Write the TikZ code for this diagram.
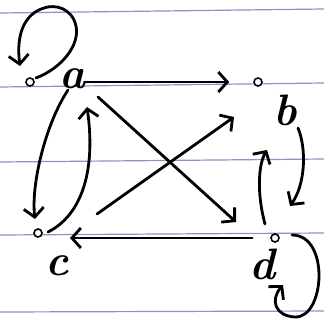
\documentclass[tikz,border=0pt]{standalone}
\usetikzlibrary{arrows.meta,calc}

\definecolor{ruleblue}{RGB}{140,146,200}

\begin{document}
\begin{tikzpicture}[
  x=1pt, y=-1pt,
  >={Straight Barb[length=9pt,width=20pt]},
  rule/.style={draw=ruleblue, line width=1.2pt},
  vertex/.style={circle, draw=black, fill=white, line width=1.6pt, minimum size=8pt, inner sep=0pt},
  vlabel/.style={font=\fontsize{44}{46}\selectfont\bfseries\itshape, inner sep=0pt},
  edge/.style={black, line width=2.8pt, line cap=round, ->}
]
\useasboundingbox (0,0) rectangle (324,324);

% Ruled paper.
\foreach \ya/\yb in {13/9, 87/83, 162/159, 235/233, 312/311}
  \draw[rule] (0,\ya) -- (324,\yb);

% Vertices and their letters.
\node[vertex] (a) at (30,82) {};
\node[vertex] (b) at (258,82) {};
\node[vertex] (c) at (38,233) {};
\node[vertex] (d) at (275,238) {};

\node[vlabel] (la) at (73,79) {a};
\node[vlabel] (lb) at (285,110) {b};
\node[vlabel] (lc) at (57,266) {c};
\node[vlabel] (ld) at (262,264) {d};

% --------------------------------------------------------------------------
% Self-loops.
% --------------------------------------------------------------------------
\draw[edge] ($(a)+(6,-4)$) .. controls (62,68) and (80,45) .. (76,26)
  .. controls (72,8) and (55,4) .. (44,8)
  .. controls (24,14) and (16,35) .. ($(a)+(-10,-16)$);
\draw[edge] ($(d)+(17,-3)$) .. controls (330,235) and (325,318) .. (295,317)
  .. controls (275,316) and (270,300) .. ($(d)+(8,47)$);

% --------------------------------------------------------------------------
% Straight connectors.
% --------------------------------------------------------------------------
\draw[edge, shorten >=24pt] (la.east |- b) -- (b);
\draw[edge] ($(la)+(25,18)$) -- ($(d)+(-39,-16)$);
\draw[edge] ($(c)+(59,-19)$) -- ($(b)+(-24,35)$);
\draw[edge, shorten <=18pt, shorten >=32pt] (d) -- (d -| c);

% --------------------------------------------------------------------------
% Curved pairs a-c and b-d.
% --------------------------------------------------------------------------
\draw[edge] ($(la)+(-5,11)$) .. controls (45,125) and (31,185) .. ($(c)+(-3,-14)$);
\draw[edge] ($(c)+(10,-1)$) .. controls (82,215) and (96,170) .. ($(la)+(14,28)$);
\draw[edge] ($(d)+(-10,-14)$) .. controls (257,195) and (258,165) .. ($(b)+(9,68)$);
\draw[edge] ($(b)+(40,46)$) .. controls (307,150) and (305,185) .. ($(d)+(15,-32)$);

\end{tikzpicture}
\end{document}
